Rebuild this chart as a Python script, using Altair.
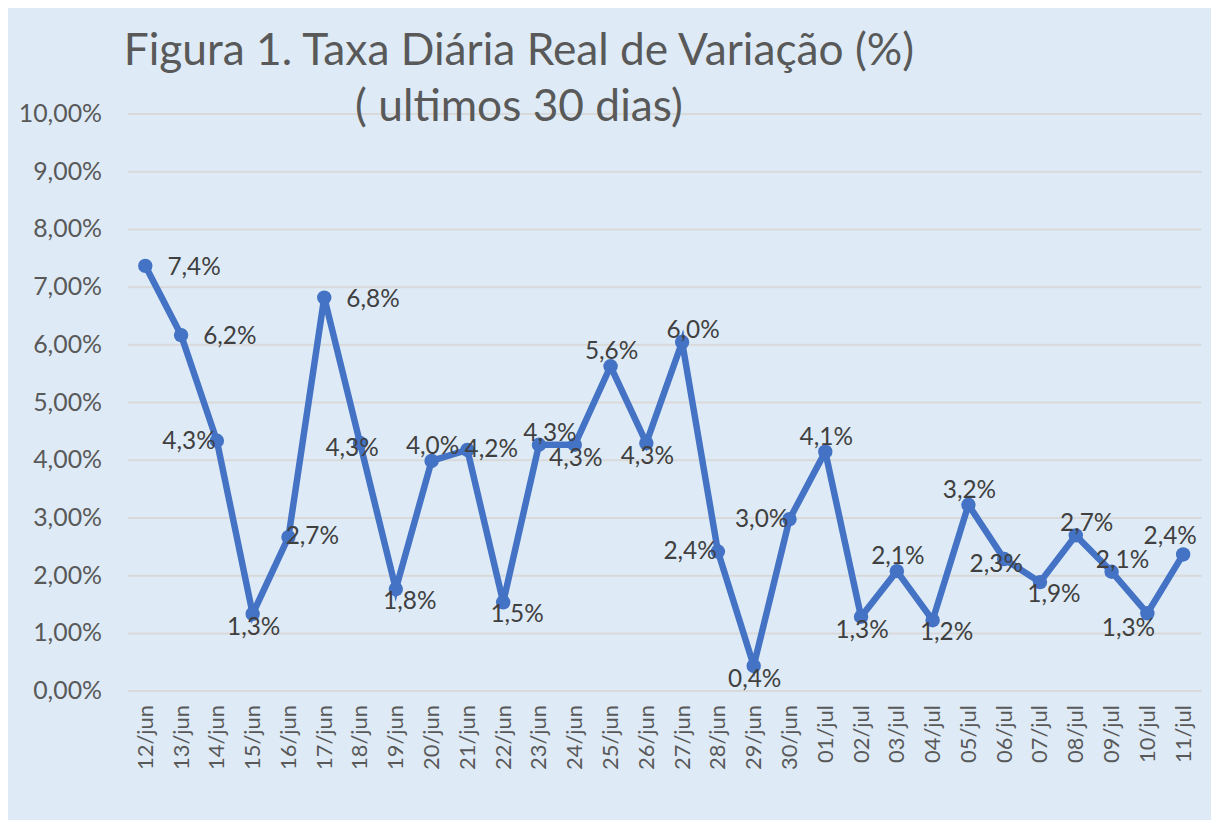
import altair as alt
import pandas as pd

# ---- data ----
dates = ["12/jun", "13/jun", "14/jun", "15/jun", "16/jun", "17/jun", "18/jun",
         "19/jun", "20/jun", "21/jun", "22/jun", "23/jun", "24/jun", "25/jun",
         "26/jun", "27/jun", "28/jun", "29/jun", "30/jun", "01/jul", "02/jul",
         "03/jul", "04/jul", "05/jul", "06/jul", "07/jul", "08/jul", "09/jul",
         "10/jul", "11/jul"]
rates = [7.36, 6.16, 4.33, 1.33, 2.66, 6.81, 4.29, 1.76, 3.98, 4.17, 1.53,
         4.26, 4.26, 5.62, 4.29, 6.04, 2.41, 0.43, 2.97, 4.14, 1.28, 2.07,
         1.22, 3.22, 2.28, 1.88, 2.69, 2.06, 1.34, 2.36]
label_place = ["right", "right", "left", "below", "near-right", "right", "center",
               "below-right", "above", "near-right", "below-right", "above-right",
               "below", "above", "below", "above-right", "left", "below", "left",
               "above", "below", "above", "below-right", "above", "center",
               "below-right", "above-right", "above-right", "below-left", "above-left"]

title_lines = ["Figura 1. Taxa Diária Real de Variação (%)", "( ultimos 30 dias)"]

# ---- styling ----
PLACE_OFFSETS = {
    "right": (49, 2), "near-right": (24, 0), "left": (-28, 1), "center": (-8, 6),
    "above": (1, -14), "above-right": (11, -11), "above-left": (-13, -17),
    "below": (1, 14), "below-right": (14, 13), "below-left": (-19, 16),
}
FONT = "Lato"
LINE_COLOR = "#4472C4"
BG = "#DEEBF7"

df = pd.DataFrame({
    "date": dates,
    "rate": rates,
    "label": [f"{v:.1f}".replace(".", ",") + "%" for v in rates],
    "place": label_place,
})

x = alt.X("date:N", sort=dates, title=None,
          axis=alt.Axis(labelAngle=-90, labelFont=FONT, labelFontSize=22,
                        labelColor="#595959", ticks=False, labelPadding=14,
                        domainColor="#D9D9D9", domainWidth=2, grid=False))
y = alt.Y("rate:Q", title=None, scale=alt.Scale(domain=[0, 10], nice=False),
          axis=alt.Axis(values=list(range(11)),
                        labelExpr="replace(format(datum.value, '.2f'), '.', ',') + '%'",
                        labelFont=FONT, labelFontSize=25, labelColor="#595959",
                        ticks=False, domain=False, labelPadding=26,
                        gridColor="#D9D9D9", gridWidth=2))

base = alt.Chart(df)
line = base.mark_line(color=LINE_COLOR, strokeWidth=6.5).encode(x=x, y=y)
pts = base.mark_point(filled=True, color=LINE_COLOR, size=210, opacity=1).encode(x=x, y=y)

label_layers = []
for place, (ddx, ddy) in PLACE_OFFSETS.items():
    label_layers.append(
        base.transform_filter(alt.datum.place == place)
        .mark_text(font=FONT, fontSize=24.5, color="#404040", dx=ddx, dy=ddy,
                   align="center", baseline="middle")
        .encode(x=x, y=y, text="label:N")
    )

chart = alt.layer(line, pts, *label_layers).properties(
    width=1079, height=580,
    title=alt.TitleParams(text=title_lines, font=FONT, fontSize=44.5, fontWeight="normal",
                          color="#595959", anchor="middle", frame="group",
                          dx=-146, dy=29, offset=0, lineHeight=56),
    autosize=alt.AutoSizeParams(type="none"),
    padding={"left": 120, "top": 104, "right": 10, "bottom": 128},
    background=BG,
).configure_view(stroke=None)

chart.save("out.html", embed_options={"renderer": "svg", "actions": False})
